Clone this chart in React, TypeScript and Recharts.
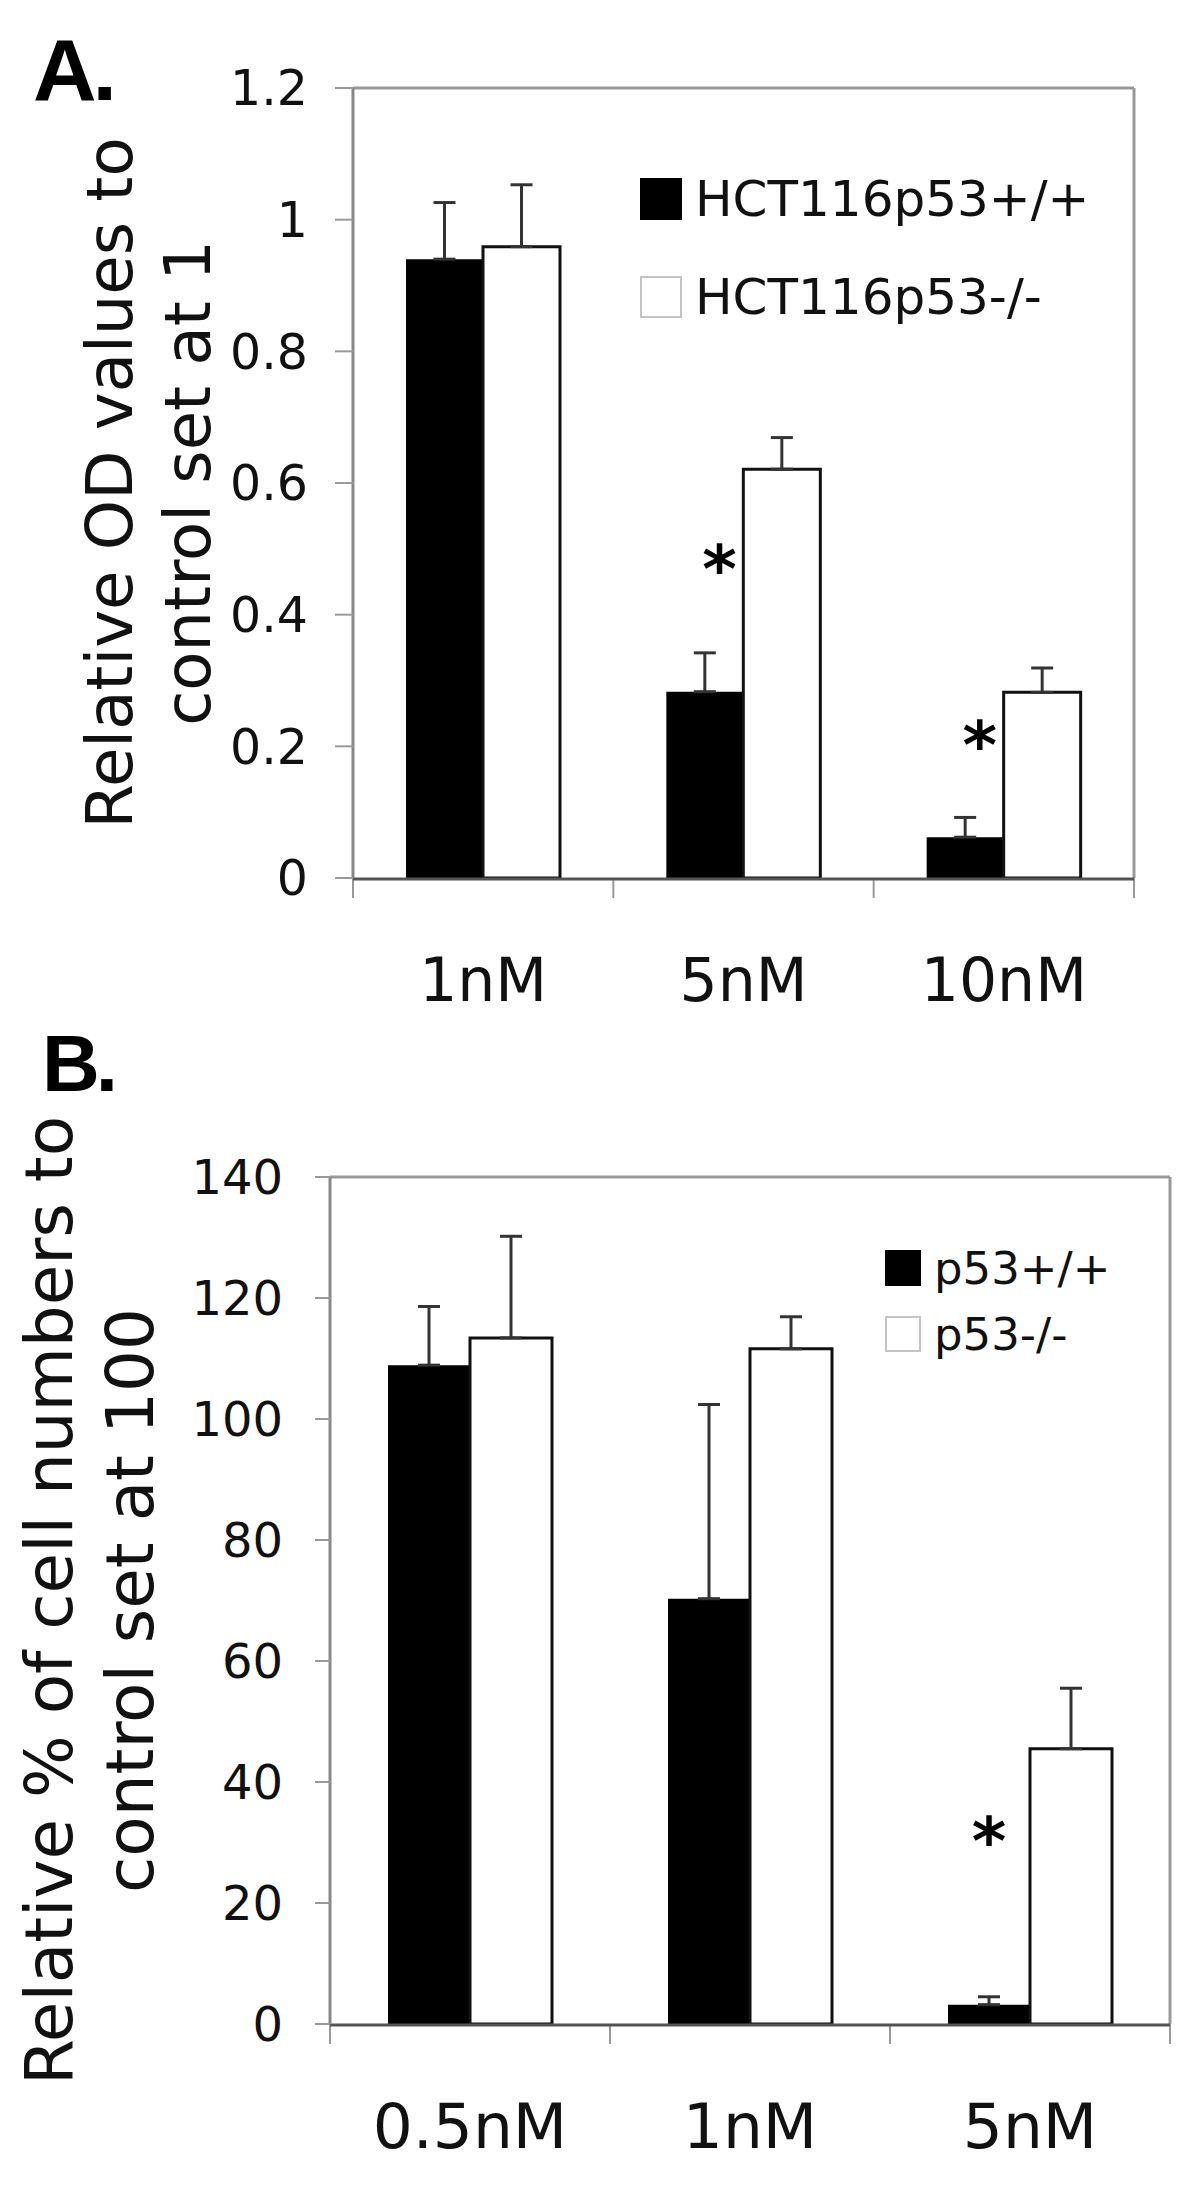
import {
  Bar,
  BarChart,
  ErrorBar,
  Label,
  Legend,
  ReferenceDot,
  XAxis,
  YAxis,
} from 'recharts';

const FONT = '"DejaVu Sans", Verdana, sans-serif';
const FRAME = '#999';

// Panel A: relative OD values
const dosesA = ['1nM', '5nM', '10nM'];
const wtMeanA = [0.94, 0.283, 0.062];
const wtErrA = [0.086, 0.059, 0.03];
const koMeanA = [0.959, 0.621, 0.282];
const koErrA = [0.094, 0.048, 0.037];
const yTicksA = [0, 0.2, 0.4, 0.6, 0.8, 1, 1.2];
const sigA = [
  { dose: '5nM', y: 0.493 },
  { dose: '10nM', y: 0.225 },
];
const titleA = ['Relative OD values to', 'control set at 1'];
const namesA = ['HCT116p53+/+', 'HCT116p53-/-'];

// Panel B: relative % of cell numbers
const dosesB = ['0.5nM', '1nM', '5nM'];
const wtMeanB = [108.9, 70.3, 3.2];
const wtErrB = [9.7, 32.1, 1.3];
const koMeanB = [113.4, 111.6, 45.5];
const koErrB = [16.8, 5.3, 10.0];
const yTicksB = [0, 20, 40, 60, 80, 100, 120, 140];
const sigB = [{ dose: '5nM', y: 32.7 }];
const titleB = ['Relative % of cell numbers to', 'control set at 100'];
const namesB = ['p53+/+', 'p53-/-'];

// category boundaries, for the tick marks between the groups
const gridTicks = [0, 1, 2, 3];

function buildRows(doses: string[], wt: number[], wtE: number[], ko: number[], koE: number[]) {
  return doses.map((dose, i) => ({
    dose,
    pos: i + 0.5,
    wt: wt[i],
    wtErr: [0, wtE[i]],
    ko: ko[i],
    koErr: [0, koE[i]],
  }));
}

const dataA = buildRows(dosesA, wtMeanA, wtErrA, koMeanA, koErrA);
const dataB = buildRows(dosesB, wtMeanB, wtErrB, koMeanB, koErrB);

function axisTitle(lines: string[], fontSize: number, baseX: number, lineGap: number) {
  return (props: any) => {
    const vb = props.viewBox;
    const cy = vb.y + vb.height / 2;
    return (
      <text
        transform={`translate(${baseX},${cy}) rotate(-90)`}
        textAnchor="middle"
        fontSize={fontSize}
        fontFamily={FONT}
        fill="#111"
      >
        {lines.map((l, i) => (
          <tspan key={i} x={0} dy={i === 0 ? 0 : lineGap}>
            {l}
          </tspan>
        ))}
      </text>
    );
  };
}

function makeLegend(box: number, fontSize: number, gap: number, textGap: number) {
  return ({ payload }: any) => (
    <div style={{ fontFamily: FONT }}>
      {(payload || []).map((entry: any, i: number) => {
        const fill = entry.payload?.fill ?? entry.color;
        const white = fill === '#fff';
        return (
          <div
            key={entry.value}
            style={{ display: 'flex', alignItems: 'center', height: box, marginBottom: i === 0 ? gap : 0 }}
          >
            <span
              style={{
                display: 'inline-block',
                width: box,
                height: box,
                boxSizing: 'border-box',
                background: fill,
                border: white ? '2px solid #c4c4c4' : 'none',
              }}
            />
            <span style={{ marginLeft: textGap, fontSize, color: '#111', whiteSpace: 'nowrap' }}>
              {entry.value}
            </span>
          </div>
        );
      })}
    </div>
  );
}

function star(dx: number, fontSize: number) {
  return (props: any) => (
    <text
      x={props.cx + dx}
      y={props.cy + fontSize * 0.58}
      textAnchor="middle"
      fontSize={fontSize}
      fontWeight="bold"
      fontFamily={FONT}
      fill="#000"
    >
      *
    </text>
  );
}

const noLabel = () => <g />;

const panelLetter = (top: number, left: number, size: number): React.CSSProperties => ({
  position: 'absolute',
  top,
  left,
  fontFamily: '"Liberation Sans", Arial, sans-serif',
  fontWeight: 'bold',
  fontSize: size,
  lineHeight: `${size}px`,
  letterSpacing: -4,
  color: '#000',
});

// the grey box round the plot and the short ticks between the groups
function frameAxes(yMax: number) {
  return [
    <XAxis
      key="top"
      xAxisId="top"
      orientation="top"
      dataKey="dose"
      height={1}
      tick={false}
      tickLine={false}
      axisLine={{ stroke: FRAME, strokeWidth: 3 }}
    />,
    <YAxis
      key="right"
      yAxisId="right"
      orientation="right"
      width={1}
      domain={[0, yMax]}
      tick={false}
      tickLine={false}
      axisLine={{ stroke: FRAME, strokeWidth: 3 }}
    />,
    <XAxis
      key="grid"
      xAxisId="a_grid"
      type="number"
      dataKey="pos"
      domain={[0, 3]}
      allowDataOverflow
      ticks={gridTicks}
      interval={0}
      height={1}
      tick={noLabel}
      axisLine={false}
      tickLine={{ stroke: FRAME, strokeWidth: 2 }}
      tickSize={20}
    />,
  ];
}

export default function App() {
  return (
    <div style={{ position: 'absolute', left: 0, top: 0, width: 1200, height: 2212, background: '#fff' }}>
      <div style={panelLetter(26, 33, 88)}>A.</div>
      <div style={panelLetter(1024, 42, 80)}>B.</div>

      <div style={{ position: 'absolute', left: 0, top: 0 }}>
        <BarChart
          width={1200}
          height={1060}
          data={dataA}
          margin={{ top: 87, right: 65, bottom: 0, left: 0 }}
          barGap={0}
        >
          {frameAxes(1.2)}
          <XAxis
            xAxisId="b_cat"
            dataKey="dose"
            height={181}
            interval={0}
            tickLine={false}
            tickSize={0}
            tickMargin={79}
            axisLine={{ stroke: '#555', strokeWidth: 3 }}
            tick={{ fontSize: 60, fill: '#111', fontFamily: FONT }}
          />
          <YAxis
            width={353}
            domain={[0, 1.2]}
            ticks={yTicksA}
            interval={0}
            tickSize={18}
            tickMargin={27}
            axisLine={{ stroke: '#888', strokeWidth: 3 }}
            tickLine={{ stroke: FRAME, strokeWidth: 2 }}
            tick={{ fontSize: 49, fill: '#111', fontFamily: FONT }}
          >
            <Label content={axisTitle(titleA, 64, 132, 78)} />
          </YAxis>
          <Bar xAxisId="b_cat" dataKey="wt" name={namesA[0]} fill="#000" barSize={77} isAnimationActive={false}>
            <ErrorBar dataKey="wtErr" direction="y" width={11} stroke="#333" strokeWidth={3} isAnimationActive={false} />
          </Bar>
          <Bar
            xAxisId="b_cat"
            dataKey="ko"
            name={namesA[1]}
            fill="#fff"
            stroke="#111"
            strokeWidth={3}
            barSize={77}
            isAnimationActive={false}
          >
            <ErrorBar dataKey="koErr" direction="y" width={11} stroke="#333" strokeWidth={3} isAnimationActive={false} />
          </Bar>
          {sigA.map((s) => (
            <ReferenceDot key={s.dose} xAxisId="b_cat" x={s.dose} y={s.y} r={1} shape={star(-24, 66)} />
          ))}
          <Legend
            layout="vertical"
            align="center"
            verticalAlign="middle"
            content={makeLegend(42, 50, 56, 13)}
            wrapperStyle={{ top: 178, left: 640, width: 520 }}
          />
        </BarChart>
      </div>

      <div style={{ position: 'absolute', left: 0, top: 1100 }}>
        <BarChart
          width={1200}
          height={1112}
          data={dataB}
          margin={{ top: 76, right: 29, bottom: 0, left: 0 }}
          barGap={0}
        >
          {frameAxes(140)}
          <XAxis
            xAxisId="b_cat"
            dataKey="dose"
            height={187}
            interval={0}
            tickLine={false}
            tickSize={0}
            tickMargin={78}
            axisLine={{ stroke: '#555', strokeWidth: 3 }}
            tick={{ fontSize: 63, fill: '#111', fontFamily: FONT }}
          />
          <YAxis
            width={330}
            domain={[0, 140]}
            ticks={yTicksB}
            interval={0}
            tickSize={15}
            tickMargin={32}
            axisLine={{ stroke: '#888', strokeWidth: 3 }}
            tickLine={{ stroke: FRAME, strokeWidth: 2 }}
            tick={{ fontSize: 48, fill: '#111', fontFamily: FONT }}
          >
            <Label content={axisTitle(titleB, 66, 72, 81)} />
          </YAxis>
          <Bar xAxisId="b_cat" dataKey="wt" name={namesB[0]} fill="#000" barSize={82} isAnimationActive={false}>
            <ErrorBar dataKey="wtErr" direction="y" width={11} stroke="#333" strokeWidth={3} isAnimationActive={false} />
          </Bar>
          <Bar
            xAxisId="b_cat"
            dataKey="ko"
            name={namesB[1]}
            fill="#fff"
            stroke="#111"
            strokeWidth={3}
            barSize={82}
            isAnimationActive={false}
          >
            <ErrorBar dataKey="koErr" direction="y" width={11} stroke="#333" strokeWidth={3} isAnimationActive={false} />
          </Bar>
          {sigB.map((s) => (
            <ReferenceDot key={s.dose} xAxisId="b_cat" x={s.dose} y={s.y} r={1} shape={star(-41, 66)} />
          ))}
          <Legend
            layout="vertical"
            align="center"
            verticalAlign="middle"
            content={makeLegend(36, 45, 30, 13)}
            wrapperStyle={{ top: 150, left: 885, width: 300 }}
          />
        </BarChart>
      </div>
    </div>
  );
}
